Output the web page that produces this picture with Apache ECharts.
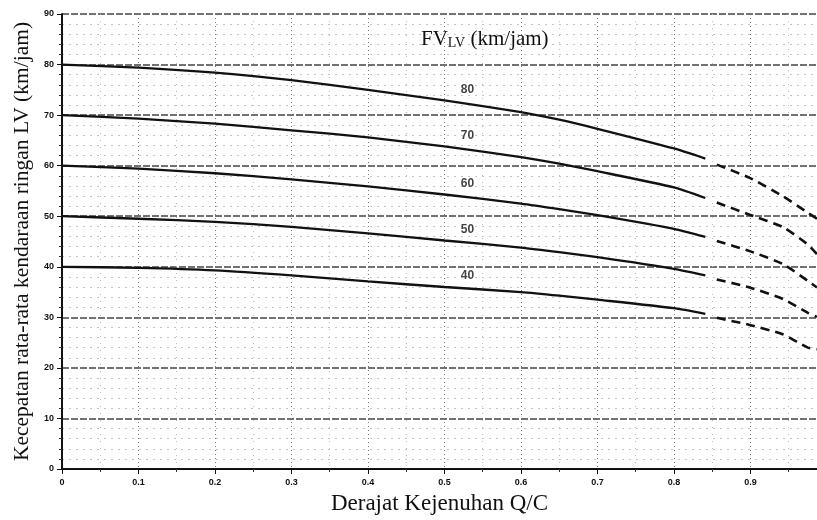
<!DOCTYPE html>
<html>
<head>
<meta charset="utf-8">
<script src="https://cdn.jsdelivr.net/npm/echarts@6/dist/echarts.min.js"></script>
<style>
html,body{margin:0;padding:0;background:#fff;}
#c{width:817px;height:520px;}
</style>
</head>
<body>
<div id="c"></div>
<script>
// ---- data ----
var curveNames = ['80', '70', '60', '50', '40'];
var solidX = [0, 0.1, 0.2, 0.3, 0.4, 0.5, 0.6, 0.65, 0.7, 0.8, 0.841];
var dashX = [0.856, 0.899, 0.943, 0.975, 0.987];
var solid80 = [80, 79.4, 78.4, 76.9, 75.0, 72.9, 70.6, 69.1, 67.3, 63.4, 61.4];
var solid70 = [70, 69.3, 68.3, 67.0, 65.6, 63.8, 61.7, 60.4, 58.9, 55.7, 53.6];
var solid60 = [60, 59.4, 58.5, 57.3, 55.9, 54.3, 52.5, 51.4, 50.2, 47.5, 45.9];
var solid50 = [50, 49.5, 48.9, 47.9, 46.6, 45.2, 43.8, 42.9, 41.9, 39.6, 38.3];
var solid40 = [40, 39.8, 39.3, 38.3, 37.1, 36.0, 35.0, 34.3, 33.5, 31.8, 30.7];
var dash80 = [60.2, 57.6, 53.9, 50.7, 49.5];
var dash70 = [52.7, 50.3, 47.8, 44.4, 42.5];
var dash60 = [45.1, 43.1, 40.5, 37.2, 35.9];
var dash50 = [37.5, 35.9, 33.6, 30.9, 30.1];
var dash40 = [29.9, 28.5, 26.6, 24.0, 23.7];
var xTicks = ['0', '0.1', '0.2', '0.3', '0.4', '0.5', '0.6', '0.7', '0.8', '0.9'];
var yTicks = ['0', '10', '20', '30', '40', '50', '60', '70', '80', '90'];
var xTitle = 'Derajat Kejenuhan Q/C';
var yTitle = 'Kecepatan rata-rata kendaraan ringan LV (km/jam)';

var solids = [solid80, solid70, solid60, solid50, solid40];
var dashes = [dash80, dash70, dash60, dash50, dash40];

function pairs(xs, ys) {
  return xs.map(function (x, i) { return [x, ys[i]]; });
}

var series = [];
var labelPts = [];
curveNames.forEach(function (n, k) {
  series.push({
    name: n + 's', type: 'line', data: pairs(solidX, solids[k]),
    showSymbol: false, symbol: 'none', smooth: 0.2, silent: true,
    lineStyle: { color: '#111', width: 2.3 }, z: 5
  });
  series.push({
    name: n + 'd', type: 'line', data: pairs(dashX, dashes[k]),
    showSymbol: false, symbol: 'none', smooth: 0.2, silent: true,
    lineStyle: { color: '#111', width: 2.6, type: [9, 6] }, z: 5
  });
  labelPts.push({ value: [solidX[5], solids[k][5]], name: n });
});
series.push({
  type: 'scatter', data: labelPts, symbolSize: 1, silent: true,
  itemStyle: { color: 'rgba(0,0,0,0)' },
  label: {
    show: true, formatter: '{b}', position: 'inside', offset: [23, -11],
    fontFamily: 'Liberation Sans', fontSize: 12, fontWeight: 'bold', color: '#111'
  }, z: 6
});

var chart = echarts.init(document.getElementById('c'), null, { renderer: 'canvas' });
chart.setOption({
  backgroundColor: '#fff',
  animation: false,
  title: {
    text: '{a|FV}{b|LV}{a| (km/jam)}',
    left: 416, top: 22,
    textStyle: {
      rich: {
        a: { fontFamily: 'Liberation Serif', fontSize: 21, fontWeight: 'normal', color: '#111', verticalAlign: 'bottom' },
        b: { fontFamily: 'Liberation Serif', fontSize: 14, fontWeight: 'normal', color: '#111', padding: [9, 0, 0, 0], verticalAlign: 'bottom' }
      }
    }
  },
  grid: { left: 62, right: 0, top: 14, bottom: 50, containLabel: false },
  xAxis: [{
    type: 'value', min: 0, max: 0.987, interval: 0.1,
    name: xTitle, nameLocation: 'middle', nameGap: 23,
    nameTextStyle: { fontFamily: 'Liberation Serif', fontSize: 23, color: '#111' },
    axisLine: { show: true, onZero: false, lineStyle: { color: '#111', width: 2 } },
    axisTick: { show: true, inside: false, length: 5, lineStyle: { color: '#111' } },
    minorTick: { show: true, splitNumber: 2, length: 3, lineStyle: { color: '#333' } },
    axisLabel: {
      fontFamily: 'Liberation Sans', fontSize: 9, fontWeight: 'bold', color: '#111', margin: 9,
      showMaxLabel: false,
      formatter: function (v) { var i = Math.round(v * 10); return (Math.abs(v * 10 - i) < 1e-6 && i < xTicks.length) ? xTicks[i] : ''; }
    },
    splitLine: { show: true, lineStyle: { color: '#777', width: 1, type: [1, 3] } },
    minorSplitLine: { show: true, lineStyle: { color: '#bbb', width: 1, type: [1, 6] } }
  }, {
    type: 'value', min: 0, max: 0.987, position: 'top',
    axisLine: { show: true, lineStyle: { color: '#111', width: 2 } },
    axisTick: { show: false }, axisLabel: { show: false }, splitLine: { show: false }
  }],
  yAxis: {
    type: 'value', min: 0, max: 90, interval: 10,
    name: yTitle, nameLocation: 'middle', nameGap: 29,
    nameTextStyle: { fontFamily: 'Liberation Serif', fontSize: 21.5, color: '#111' },
    axisLine: { show: true, lineStyle: { color: '#111', width: 2 } },
    axisTick: { show: true, length: 5, lineStyle: { color: '#111' } },
    minorTick: { show: true, splitNumber: 5, length: 3, lineStyle: { color: '#333' } },
    axisLabel: {
      fontFamily: 'Liberation Sans', fontSize: 9, fontWeight: 'bold', color: '#111', margin: 8,
      formatter: function (v) { var i = Math.round(v / 10); return yTicks[i] || ''; }
    },
    splitLine: { show: true, lineStyle: { color: '#444', width: 1.5, type: [7, 2] } },
    minorSplitLine: { show: true, lineStyle: { color: '#c4c4c4', width: 1, type: [2, 5] } }
  },
  series: series
});
</script>
</body>
</html>
